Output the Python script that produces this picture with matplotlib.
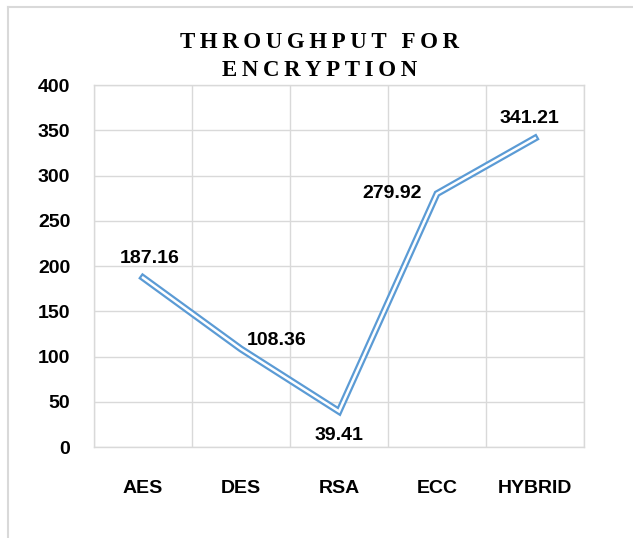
import matplotlib.pyplot as plt
from matplotlib.lines import Line2D

algos = ["AES", "DES", "RSA", "ECC", "HYBRID"]
throughput = [187.16, 108.36, 39.41, 279.92, 341.21]
yticks = [0, 50, 100, 150, 200, 250, 300, 350, 400]

BLUE = "#5B9BD5"
GRID = "#D9D9D9"
LBL = ["Liberation Sans", "DejaVu Sans"]
FS = 14

fig = plt.figure(figsize=(6.33, 5.38), dpi=100)
ax = fig.add_axes([0.1485, 0.169, 0.774, 0.673])

x = list(range(len(algos)))
# excel style double (compound) line: thick blue + thin white core
ax.plot(x, throughput, color=BLUE, lw=5.0, solid_joinstyle="miter", zorder=3)
ax.plot(x, throughput, color="white", lw=1.8, solid_joinstyle="miter", zorder=4)

ax.set_xlim(-0.5, len(algos) - 0.5)
ax.set_ylim(0, 400)
ax.set_yticks(yticks)
ax.set_xticks(x)
ax.set_xticklabels(algos)
ax.set_xticks([i - 0.5 for i in range(len(algos) + 1)], minor=True)
ax.tick_params(axis="both", which="both", length=0)
ax.tick_params(axis="x", which="major", pad=24)
ax.tick_params(axis="y", pad=17)
for t in ax.get_xticklabels() + ax.get_yticklabels():
    t.set_fontfamily(LBL); t.set_fontweight("bold"); t.set_fontsize(FS)
ax.grid(True, axis="y", color=GRID, lw=1)
ax.grid(True, axis="x", which="minor", color=GRID, lw=1)
ax.set_axisbelow(True)
for s in ax.spines.values():
    s.set_color(GRID); s.set_linewidth(1)

# data labels (positions like excel: above / right / below / left / above)
place = [(5, 8, "center", "bottom"), (4, 0, "left", "bottom"),
         (0, -11, "center", "top"), (-11, 0, "right", "center"),
         (-4, 8, "center", "bottom")]
for i, v in enumerate(throughput):
    dx, dy, ha, va = place[i]
    ax.annotate(f"{v:.2f}", (i, v), xytext=(dx, dy), textcoords="offset points",
                ha=ha, va=va, fontsize=FS, fontweight="bold", family=LBL)

title = ["THROUGHPUT FOR", "ENCRYPTION"]
sp = "\u2009"
fig.text(0.505, 0.921, sp.join(title[0]), ha="center", va="center",
         family="Liberation Serif", fontweight="bold", fontsize=16.5)
fig.text(0.505, 0.869, sp.join(title[1]), ha="center", va="center",
         family="Liberation Serif", fontweight="bold", fontsize=16.5)

# outer chart frame (left and top only)
fig.add_artist(Line2D([0.012, 0.012], [0.0, 0.987], transform=fig.transFigure,
                      color=GRID, lw=1.5))
fig.add_artist(Line2D([0.012, 1.0], [0.987, 0.987], transform=fig.transFigure,
                      color=GRID, lw=1.5))

fig.savefig("out.png", dpi=100)
